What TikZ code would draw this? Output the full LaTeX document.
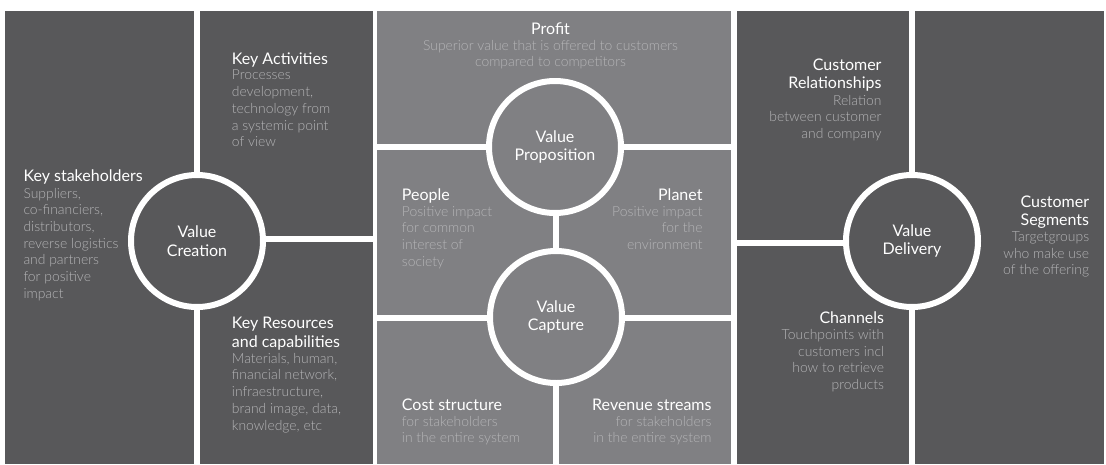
\documentclass[tikz,border=0pt]{standalone}
\usepackage{fontspec}
\setmainfont{Lato}
\newfontfamily\lightfont{Lato Light}

\definecolor{panel}{HTML}{58585A}
\definecolor{midpanel}{HTML}{808083}
\definecolor{notegray}{HTML}{B4B4B6}

\tikzset{
    heading/.style={inner sep=0pt, text=white, align=left,
        font=\fontsize{16}{18.5}\selectfont,
        execute at begin node=\strut, execute at end node=\strut},
    bodytext/.style={inner sep=0pt, text=notegray, align=left,
        font=\lightfont\fontsize{13.9}{16.7}\selectfont,
        execute at begin node=\strut},
    hub/.style={circle, draw=white, line width=6pt, minimum size=132pt,
        inner sep=0pt, align=center, text=white,
        font=\fontsize{16}{18.5}\selectfont},
}

\begin{document}
\begin{tikzpicture}[x=1pt, y=-1pt]
    \fill[white] (0,0) rectangle (1106,464);
    \useasboundingbox (0,0) rectangle (1106,464);

    \foreach \xa/\ya/\xb/\yb in {5/11/194/463.5, 200/11/373/236, 200/242/373/463.5,
        737/11/909/240, 737/246/909/463.5, 915/11/1104/463.5}
    {   \fill[panel] (\xa,\ya) rectangle (\xb,\yb);
    }
    \foreach \xa/\ya/\xb/\yb in {377/11/731/144, 377/150/553/315, 559/150/731/315,
        377/321/553/463.5, 559/321/731/463.5}
    {   \fill[midpanel] (\xa,\ya) rectangle (\xb,\yb);
    }

    \node[hub, fill=panel] (creation) at (197,241) {Value\\Creation};
    \node[hub, fill=midpanel] (proposition) at (555,147) {Value\\Proposition};
    \node[hub, fill=midpanel] (capture) at (556,317) {Value\\Capture};
    \node[hub, fill=panel] (delivery) at (912,241) {Value\\Delivery};

    \node[heading, anchor=north west] (stakeholders) at (23.3,168.8) {Key stakeholders};
    \node[bodytext, anchor=north west] (stakeholders text) at (stakeholders.south west)
        {Suppliers,\\co-financiers,\\distributors,\\reverse logistics\\and partners\\for positive\\impact};

    \node[heading, anchor=north west] (activities) at (231.7,51) {Key Activities};
    \node[bodytext, anchor=north west] (activities text) at (activities.south west)
        {Processes\\development,\\technology from\\a systemic point\\of view};

    \node[heading, anchor=north west] (resources) at (231.7,317) {Key Resources\\and capabilities};
    \node[bodytext, anchor=north west] (resources text) at (resources.south west)
        {Materials, human,\\financial network,\\infraestructure,\\brand image, data,\\knowledge, etc};

    \node[heading, anchor=north] (profit) at (550.5,21) {Profit};
    \node[bodytext, align=center, anchor=north] (profit text) at (profit.south)
        {Superior value that is offered to customers\\compared to competitors};

    \node[heading, anchor=north west] (people) at (401.7,187) {People};
    \node[bodytext, anchor=north west] (people text) at (people.south west)
        {Positive impact\\for common\\interest of\\society};

    \node[heading, align=right, anchor=north east] (planet) at (702.7,187) {Planet};
    \node[bodytext, align=right, anchor=north east] (planet text) at (planet.south east)
        {Positive impact\\for the\\environment};

    \node[heading, anchor=north west] (cost) at (401.7,397) {Cost structure};
    \node[bodytext, anchor=north west] (cost text) at (cost.south west)
        {for stakeholders\\in the entire system};

    \node[heading, align=right, anchor=north east] (revenue) at (711.7,397) {Revenue streams};
    \node[bodytext, align=right, anchor=north east] (revenue text) at (revenue.south east)
        {for stakeholders\\in the entire system};

    \node[heading, align=right, anchor=north east] (relationships) at (881.7,58.7) {Customer\\Relationships};
    \node[bodytext, align=right, anchor=north east] (relationships text) at (relationships.south east)
        {Relation\\between customer\\and company};

    \node[heading, align=right, anchor=north east] (segments) at (1089.3,195.3) {Customer\\Segments};
    \node[bodytext, align=right, anchor=north east] (segments text) at (segments.south east)
        {Targetgroups\\who make use\\of the offering};

    \node[heading, align=right, anchor=north east] (channels) at (884.3,310.3) {Channels};
    \node[bodytext, align=right, anchor=north east] (channels text) at (channels.south east)
        {Touchpoints with\\customers incl\\how to retrieve\\products};
\end{tikzpicture}
\end{document}
